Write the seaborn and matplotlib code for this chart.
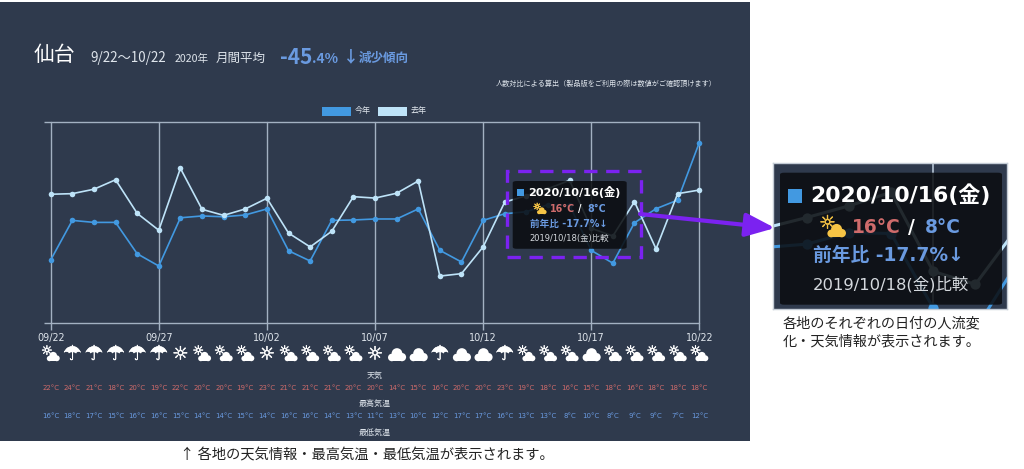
import pandas as pd
import seaborn as sns
import matplotlib.pyplot as plt
from matplotlib.patches import Rectangle, Circle, FancyBboxPatch, FancyArrowPatch
from matplotlib.transforms import IdentityTransform
import matplotlib.patheffects as pe

# Values (the y axis has no labels, so 0-100 of the plot height)
dates = ['09/22', '09/23', '09/24', '09/25', '09/26', '09/27', '09/28', '09/29', '09/30', '10/01', '10/02',
         '10/03', '10/04', '10/05', '10/06', '10/07', '10/08', '10/09', '10/10', '10/11', '10/12',
         '10/13', '10/14', '10/15', '10/16', '10/17', '10/18', '10/19', '10/20', '10/21', '10/22']
this_year = [31.5, 51.2, 50.2, 50.2, 34.6, 28.5, 52.5, 53.4, 53.0, 53.9, 56.9,
             36.1, 31.0, 51.2, 51.4, 51.9, 51.9, 56.9, 36.3, 30.5, 51.2,
             54.5, 55.5, 59.0, 58.7, 36.3, 29.9, 50.0, 57.0, 61.3, 89.9]
last_year = [64.2, 64.5, 66.7, 71.4, 54.7, 46.3, 77.1, 56.7, 53.7, 56.9, 62.2,
             44.9, 38.0, 45.8, 63.0, 62.3, 64.7, 70.8, 23.5, 24.7, 38.0,
             60.3, 63.5, 67.0, 71.1, 47.3, 43.4, 60.5, 37.0, 64.5, 66.3]
weather = ['partly', 'rain', 'rain', 'rain', 'rain', 'rain', 'sun', 'partly', 'partly', 'partly', 'sun',
           'partly', 'partly', 'partly', 'partly', 'sun', 'cloud', 'cloud', 'rain', 'cloud', 'cloud',
           'rain', 'partly', 'partly', 'partly', 'cloud', 'partly', 'partly', 'partly', 'partly', 'partly']
high_temp = [22, 24, 21, 18, 20, 19, 22, 20, 20, 19, 23, 21, 21, 21, 20, 20, 14, 15, 16, 20, 20, 23, 19, 18, 16, 15, 18, 16, 18, 18, 18]
low_temp = [16, 18, 17, 15, 16, 16, 15, 14, 14, 15, 14, 16, 16, 14, 13, 11, 13, 10, 12, 17, 17, 16, 13, 13, 8, 10, 8, 9, 9, 7, 12]

W, H = 1024, 469
PANEL = '#2f3a4d'
BLUE = '#4299e1'
LIGHT = '#bee3f8'
GRID = '#a3b1c2'
TEXT = '#dfe5ec'
RED = '#cf6b6b'
SOFT_BLUE = '#6a9ae0'
PURPLE = '#7b22f0'
JP = 'Noto Sans CJK JP'

sns.set_theme(style='white')
plt.rcParams['font.family'] = ['DejaVu Sans', JP]

fig = plt.figure(figsize=(W / 100, H / 100), dpi=100, facecolor='white')


def put(x, y, s, size=6, color=TEXT, ha='left', z=6, **kw):
    return fig.text(x / W, 1 - y / H, s, fontsize=size, color=color, ha=ha, va='center', zorder=z, **kw)


def box(x0, y0, x1, y1):
    return [x0 / W, 1 - y1 / H, (x1 - x0) / W, (y1 - y0) / H]


def draw_cloud(x, y, s, color):
    parts = [(-0.27, 0.14, 0.21), (0.02, -0.08, 0.30), (0.30, 0.12, 0.23)]
    for dx, dy, r in parts:
        fig.add_artist(Circle((x + dx * s, H - y - dy * s), r * s, transform=IdentityTransform(),
                              facecolor=color, edgecolor='none', zorder=6))
    fig.add_artist(Rectangle((x - 0.27 * s, H - y - 0.35 * s), 0.57 * s, 0.3 * s, transform=IdentityTransform(),
                             facecolor=color, edgecolor='none', zorder=6))


def draw_icon(x, y, kind, s, color='white'):
    # s is the icon width in pixels
    stroke = [pe.withStroke(linewidth=0.4, foreground=color)]
    if kind == 'cloud':
        draw_cloud(x, y + 0.03 * s, 1.12 * s, color)
    elif kind == 'partly':
        put(x - 0.24 * s, y - 0.2 * s, '☼', 0.58 * s, color, ha='center', path_effects=stroke)
        draw_cloud(x + 0.14 * s, y + 0.14 * s, 0.8 * s, color)
    elif kind == 'sun':
        put(x, y, '☼', 0.82 * s, color, ha='center', path_effects=stroke)
    else:
        put(x, y, '☂', 0.92 * s, color, ha='center', path_effects=stroke)


def draw_lines(ax, lw, ms):
    sns.lineplot(data=df, x='day', y='value', hue='series', palette=[BLUE, LIGHT], marker='o',
                 markersize=ms, markeredgewidth=0, linewidth=lw, legend=False, ax=ax, clip_on=False)
    ax.set_facecolor('none')
    ax.set_xlabel('')
    ax.set_ylabel('')


def draw_tooltip(x0, y0, k):
    # laid out at the size of the enlarged copy, k scales it down for the chart one
    def tx(v):
        return x0 + v * k

    def ty(v):
        return y0 + v * k

    fig.add_artist(FancyBboxPatch((tx(0) / W, 1 - ty(132) / H), 222 * k / W, 132 * k / H,
                                  boxstyle='round,pad=0,rounding_size=0.004', transform=fig.transFigure,
                                  facecolor='#0b0d10', edgecolor='none', alpha=0.87, zorder=5))
    fig.add_artist(Rectangle((tx(8) / W, 1 - ty(30) / H), 14 * k / W, 14 * k / H, transform=fig.transFigure,
                             facecolor=BLUE, edgecolor='none', zorder=6))
    put(tx(30), ty(22), '2020/10/16(金)', 15.8 * k, 'white', weight='bold')
    draw_icon(tx(53), ty(55), 'partly', 23 * k, '#f6c445')
    put(tx(72), ty(55), '16°C', 13.4 * k, RED, weight='bold')
    put(tx(131), ty(55), '/', 13.4 * k, 'white', ha='center', weight='bold')
    put(tx(145), ty(55), '8°C', 13.4 * k, SOFT_BLUE, weight='bold')
    put(tx(33), ty(83), '前年比 -17.7%↓', 13.5 * k, SOFT_BLUE, weight='bold')
    put(tx(33), ty(112), '2019/10/18(金)比較', 11.8 * k, '#d5d9de')


df = pd.DataFrame({
    'day': list(range(len(dates))) * 2,
    'value': this_year + last_year,
    'series': ['今年'] * len(dates) + ['去年'] * len(dates),
})

# Dark panel behind the chart
fig.add_artist(Rectangle((0, 1 - 441 / H), 750 / W, 439 / H, transform=fig.transFigure,
                         facecolor=PANEL, edgecolor='none', zorder=-1))

# Main chart
ax = fig.add_axes(box(50.7, 122.3, 699.3, 323.3))
draw_lines(ax, 1.2, 4.0)
ax.set_xlim(0, 30)
ax.set_ylim(0, 100)
ax.set_xticks(range(0, 31, 5), dates[::5])
ax.set_yticks([0, 100], ['', ''])
ax.tick_params(left=True, bottom=True, length=5, width=1, color=GRID, labelcolor=TEXT, labelsize=6.9, pad=2)
ax.grid(True, color=GRID, linewidth=1)
ax.set_axisbelow(True)
for g in ax.get_xgridlines() + ax.get_ygridlines():
    g.set_clip_on(False)
for s in ax.spines.values():
    s.set_visible(False)

# Legend
fig.add_artist(Rectangle((322 / W, 1 - 116 / H), 29 / W, 9 / H, transform=fig.transFigure, facecolor=BLUE, edgecolor='none'))
fig.add_artist(Rectangle((378 / W, 1 - 116 / H), 29 / W, 9 / H, transform=fig.transFigure, facecolor=LIGHT, edgecolor='none'))
put(354.5, 111, '今年', 5.8, family=JP)
put(410.5, 111, '去年', 5.8, family=JP)

# Header
put(34, 55, '仙台', 15, 'white', family=JP)
put(90, 58, '9/22〜10/22', 9.6, TEXT, family=JP)
put(175, 59, '2020年', 7.6, TEXT, family=JP)
put(216, 58, '月間平均', 9, TEXT, family=JP)
put(280, 57, '-45', 15, SOFT_BLUE, weight='bold', family=JP)
put(312, 59, '.4%', 10, SOFT_BLUE, weight='bold', family=JP)
put(343, 57, '↓', 11.5, SOFT_BLUE, weight='bold', family=JP)
put(359, 58, '減少傾向', 9, SOFT_BLUE, weight='bold', family=JP)
put(717, 84, '人数対比による算出（製品版をご利用の際は数値がご確認頂けます）', 5.1, TEXT, ha='right', family=JP)

# Weather rows under the chart
for i in range(len(dates)):
    x = ax.transData.transform((i, 0))[0]
    draw_icon(x, 354.5, weather[i], 16)
    put(x, 388, f'{high_temp[i]}°C', 5, RED, ha='center')
    put(x, 416, f'{low_temp[i]}°C', 5, SOFT_BLUE, ha='center')
put(375, 375, '天気', 5.8, ha='center', family=JP)
put(375, 403, '最高気温', 5.8, ha='center', family=JP)
put(375, 432, '最低気温', 5.8, ha='center', family=JP)

# Tooltip on the chart and its purple marker
draw_tooltip(512.7, 181, 114 / 222)
fig.add_artist(Rectangle((507 / W, 1 - 257 / H), 134 / W, 86 / H, transform=fig.transFigure, fill=False,
                         edgecolor=PURPLE, linewidth=2.4, linestyle=(0, (4, 2.6)), zorder=7))

# Enlarged copy on the right
inset = fig.add_axes(box(773, 163, 1007, 309), zorder=2)
draw_lines(inset, 2.2, 7.4)
inset.set_facecolor(PANEL)
inset.set_xlim(21.2, 26.75)
inset.set_ylim(36.0, 79.9)
inset.set_xticks([25], [''])
inset.set_yticks([])
inset.tick_params(length=0)
inset.grid(True, color=GRID, linewidth=1.4)
inset.set_axisbelow(True)
for l in inset.lines:
    l.set_clip_on(True)
for s in inset.spines.values():
    s.set_color('#c4ccd6')
    s.set_linewidth(1)
draw_tooltip(780, 172.7, 1)

# Purple arrow between them
fig.add_artist(FancyArrowPatch((640 / W, 1 - 214 / H), (775 / W, 1 - 228 / H), transform=fig.transFigure,
                               arrowstyle='-|>,head_length=0.75,head_width=0.3', mutation_scale=24,
                               linewidth=3, color=PURPLE, shrinkA=0, shrinkB=0, zorder=8))

# Captions on the white background
put(180, 455, '↑ 各地の天気情報・最高気温・最低気温が表示されます。', 10.3, '#222222', family=JP)
put(783, 323, '各地のそれぞれの日付の人流変', 10.2, '#222222', family=JP)
put(783, 341, '化・天気情報が表示されます。', 10.2, '#222222', family=JP)

fig.savefig('out.png', dpi=100)
